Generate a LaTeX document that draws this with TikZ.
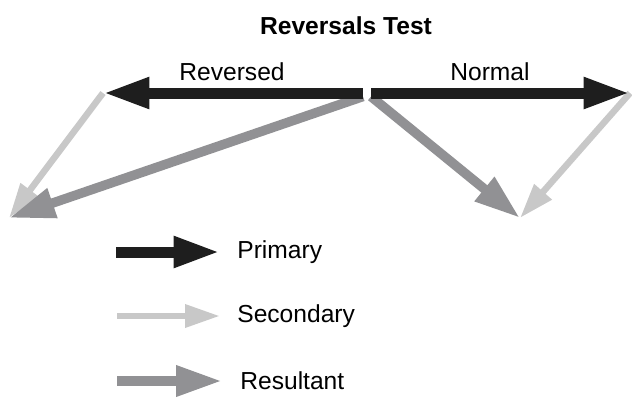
\documentclass[tikz,border=0pt]{standalone}
\usepackage{fontspec}
\setmainfont{Liberation Sans}
\usepackage{tikz}
\usetikzlibrary{arrows.meta, positioning}
\definecolor{primaryblack}{RGB}{30, 30, 30}
\definecolor{secondarygray}{RGB}{200, 200, 200}
\definecolor{resultantgray}{RGB}{145, 145, 148}

\begin{document}
\begin{tikzpicture}[
    x=0.02cm, y=-0.02cm,
    label/.style={font=\fontsize{14}{16}\selectfont, inner sep=0pt},
    primary/.style={draw=primaryblack, line width=0.22cm, -{Triangle[length=0.93cm, width=0.58cm]}, primaryblack},
    secondary/.style={draw=secondarygray, line width=0.13cm, -{Triangle[length=0.7cm, width=0.44cm]}, secondarygray},
    resultant/.style={draw=resultantgray, line width=0.19cm, -{Triangle[length=0.92cm, width=0.58cm]}, resultantgray}
]
\useasboundingbox (0,0) rectangle (632,397);

\node[font=\fontsize{14}{16}\selectfont\bfseries] (title) at (346,26) {Reversals Test};

% vector diagram
\coordinate (revorigin) at (363,93);
\coordinate (normorigin) at (371,93);
\coordinate (revtip) at (103,93);
\coordinate (normtip) at (630,93);
\coordinate (revend) at (9,218);
\coordinate (normend) at (520,218);

\node[label] (reversed) at (232,72) {Reversed};
\node[label] (normal) at (490,72) {Normal};

\draw[secondary] (revtip) -- (revend);
\draw[secondary] (normtip) -- (normend);
\draw[resultant] ([yshift=-2]revorigin) -- (revend);
\draw[resultant] ([yshift=-2]normorigin) -- (normend);
\draw[primary] (revorigin) -- (revtip);
\draw[primary] (normorigin) -- (normtip);

% legend
\coordinate (primstart) at (116,252);
\coordinate (primend) at (220,252);
\coordinate (secstart) at (117,316);
\coordinate (secend) at (220,316);
\coordinate (resstart) at (117,381);
\coordinate (resend) at (222,381);

\draw[primary] (primstart) -- (primend);
\draw[secondary] (secstart) -- (secend);
\draw[resultant] (resstart) -- (resend);

\node[label, anchor=west, right=0.34cm of primend] (primlabel) {Primary};
\node[label, anchor=west, right=0.34cm of secend] (seclabel) {Secondary};
\node[label, anchor=west, right=0.36cm of resend] (reslabel) {Resultant};

\end{tikzpicture}
\end{document}
